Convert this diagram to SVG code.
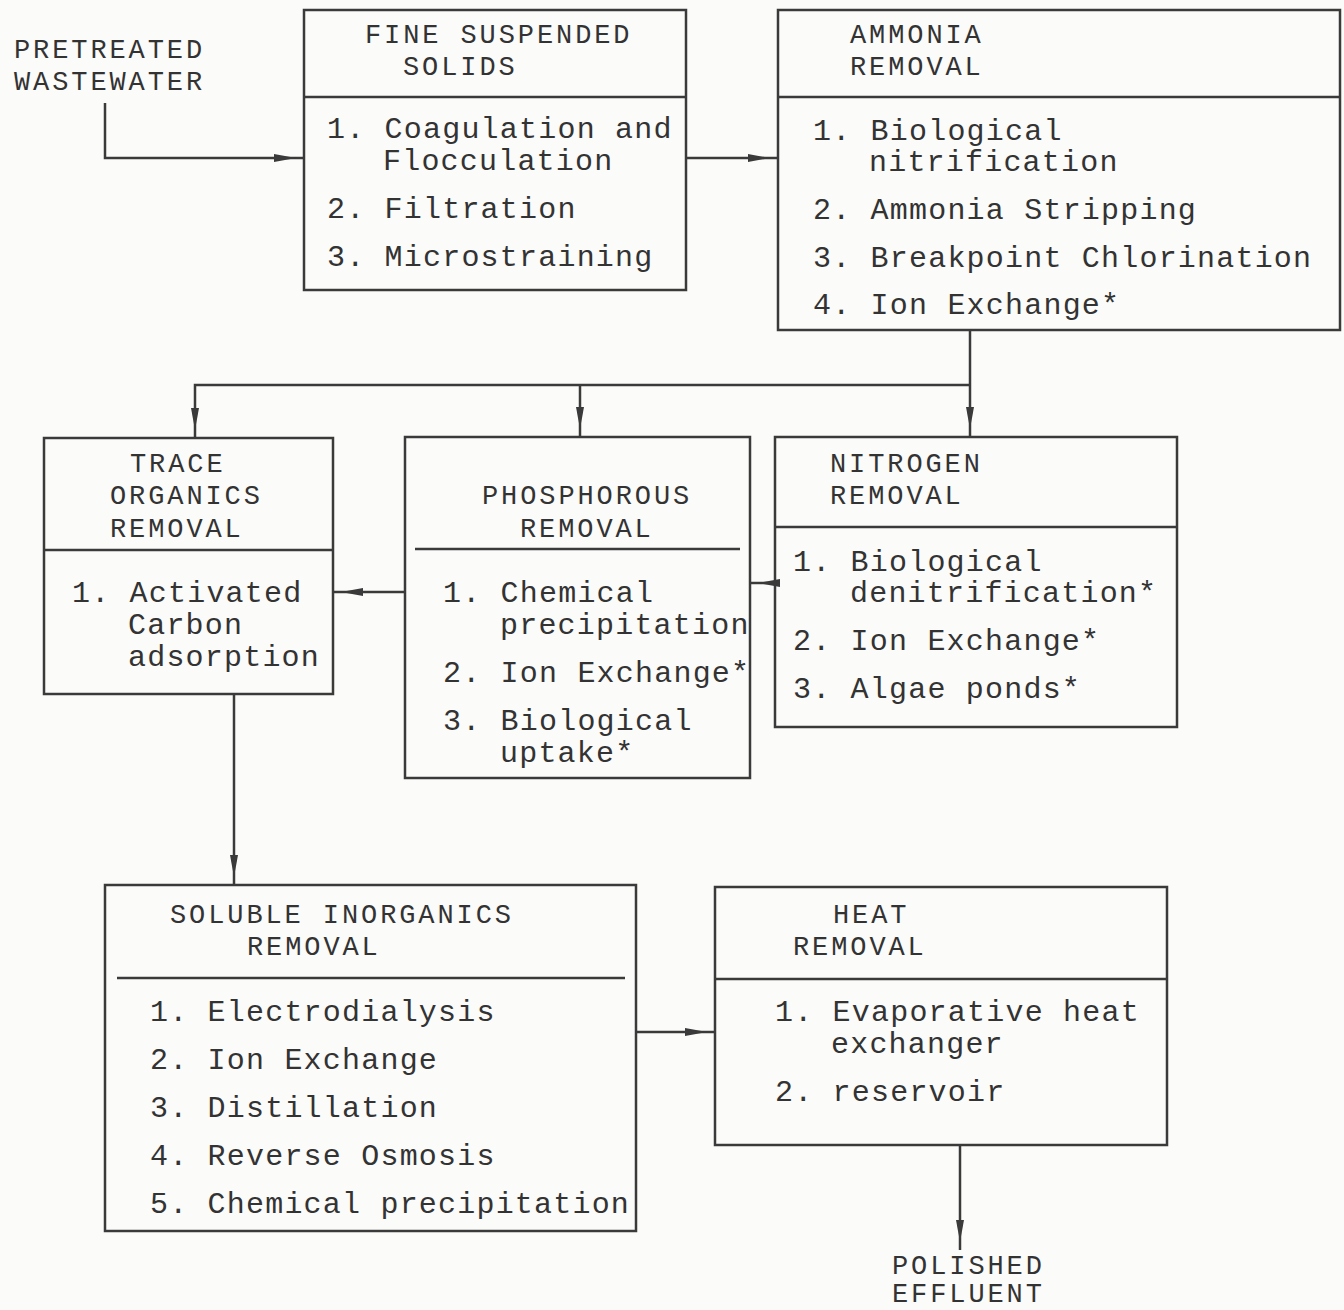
<svg xmlns="http://www.w3.org/2000/svg" width="1344" height="1310" viewBox="0 0 1344 1310">
<defs>
<style>
.bg{fill:#fbfbfa}
.box{fill:none;stroke:#3a3a3a;stroke-width:2.5}
.div{stroke:#3a3a3a;stroke-width:2.5}
.con{fill:none;stroke:#3a3a3a;stroke-width:2.5}
.h{font-family:"Liberation Mono","DejaVu Sans Mono",monospace;font-size:27px;letter-spacing:2.9px;fill:#333}
.b{font-family:"Liberation Mono","DejaVu Sans Mono",monospace;font-size:30px;letter-spacing:1.2px;fill:#333}
</style>
<marker id="ah" markerUnits="userSpaceOnUse" markerWidth="32" markerHeight="12" viewBox="0 -6 32 12" refX="30" refY="0" orient="auto">
<path d="M0,-4 L22,0 L0,4 z" fill="#3a3a3a"/>
</marker>
</defs>
<rect class="bg" x="0" y="0" width="1344" height="1310"/>

<g id="connectors">
<path class="con" d="M105,103 V158 H304" marker-end="url(#ah)"/>
<path class="con" d="M686,158 H778" marker-end="url(#ah)"/>
<path class="con" d="M970,330 V437" marker-end="url(#ah)"/>
<path class="con" d="M970,385 H195 V438" marker-end="url(#ah)"/>
<path class="con" d="M580,385 V437" marker-end="url(#ah)"/>
<path class="con" d="M405,592 H333" marker-end="url(#ah)"/>
<path class="con" d="M775,583 H750" marker-end="url(#ah)"/>
<path class="con" d="M234,694 V885" marker-end="url(#ah)"/>
<path class="con" d="M636,1032 H715" marker-end="url(#ah)"/>
<path class="con" d="M960,1145 V1250" marker-end="url(#ah)"/>
</g>

<g id="input">
<text class="h" x="14" y="58">PRETREATED</text>
<text class="h" x="14" y="90">WASTEWATER</text>
</g>

<g id="fine-suspended-solids">
<rect class="box" x="304" y="10" width="382" height="280"/>
<line class="div" x1="304" y1="97" x2="686" y2="97"/>
<text class="h" x="365" y="43">FINE SUSPENDED</text>
<text class="h" x="403" y="75">SOLIDS</text>
<text class="b" x="327" y="138">1. Coagulation and</text>
<text class="b" x="383" y="170">Flocculation</text>
<text class="b" x="327" y="218">2. Filtration</text>
<text class="b" x="327" y="266">3. Microstraining</text>
</g>

<g id="ammonia-removal">
<rect class="box" x="778" y="10" width="562" height="320"/>
<line class="div" x1="778" y1="97" x2="1340" y2="97"/>
<text class="h" x="850" y="43">AMMONIA</text>
<text class="h" x="850" y="75">REMOVAL</text>
<text class="b" x="813" y="140">1. Biological</text>
<text class="b" x="869" y="171">nitrification</text>
<text class="b" x="813" y="219">2. Ammonia Stripping</text>
<text class="b" x="813" y="267">3. Breakpoint Chlorination</text>
<text class="b" x="813" y="314">4. Ion Exchange*</text>
</g>

<g id="trace-organics-removal">
<rect class="box" x="44" y="438" width="289" height="256"/>
<line class="div" x1="44" y1="550" x2="333" y2="550"/>
<text class="h" x="130" y="472">TRACE</text>
<text class="h" x="110" y="504">ORGANICS</text>
<text class="h" x="110" y="537">REMOVAL</text>
<text class="b" x="72" y="602">1. Activated</text>
<text class="b" x="128" y="634">Carbon</text>
<text class="b" x="128" y="666">adsorption</text>
</g>

<g id="phosphorous-removal">
<rect class="box" x="405" y="437" width="345" height="341"/>
<line class="div" x1="415" y1="549" x2="740" y2="549"/>
<text class="h" x="482" y="504">PHOSPHOROUS</text>
<text class="h" x="520" y="537">REMOVAL</text>
<text class="b" x="443" y="602">1. Chemical</text>
<text class="b" x="500" y="634">precipitation</text>
<text class="b" x="443" y="682">2. Ion Exchange*</text>
<text class="b" x="443" y="730">3. Biological</text>
<text class="b" x="500" y="762">uptake*</text>
</g>

<g id="nitrogen-removal">
<rect class="box" x="775" y="437" width="402" height="290"/>
<line class="div" x1="775" y1="527" x2="1177" y2="527"/>
<text class="h" x="830" y="472">NITROGEN</text>
<text class="h" x="830" y="504">REMOVAL</text>
<text class="b" x="793" y="571">1. Biological</text>
<text class="b" x="850" y="602">denitrification*</text>
<text class="b" x="793" y="650">2. Ion Exchange*</text>
<text class="b" x="793" y="698">3. Algae ponds*</text>
</g>

<g id="soluble-inorganics-removal">
<rect class="box" x="105" y="885" width="531" height="346"/>
<line class="div" x1="117" y1="978" x2="625" y2="978"/>
<text class="h" x="170" y="923">SOLUBLE INORGANICS</text>
<text class="h" x="247" y="955">REMOVAL</text>
<text class="b" x="150" y="1021">1. Electrodialysis</text>
<text class="b" x="150" y="1069">2. Ion Exchange</text>
<text class="b" x="150" y="1117">3. Distillation</text>
<text class="b" x="150" y="1165">4. Reverse Osmosis</text>
<text class="b" x="150" y="1213">5. Chemical precipitation</text>
</g>

<g id="heat-removal">
<rect class="box" x="715" y="887" width="452" height="258"/>
<line class="div" x1="715" y1="979" x2="1167" y2="979"/>
<text class="h" x="833" y="923">HEAT</text>
<text class="h" x="793" y="955">REMOVAL</text>
<text class="b" x="775" y="1021">1. Evaporative heat</text>
<text class="b" x="831" y="1053">exchanger</text>
<text class="b" x="775" y="1101">2. reservoir</text>
</g>

<g id="output">
<text class="h" x="892" y="1274">POLISHED</text>
<text class="h" x="892" y="1302">EFFLUENT</text>
</g>
</svg>
